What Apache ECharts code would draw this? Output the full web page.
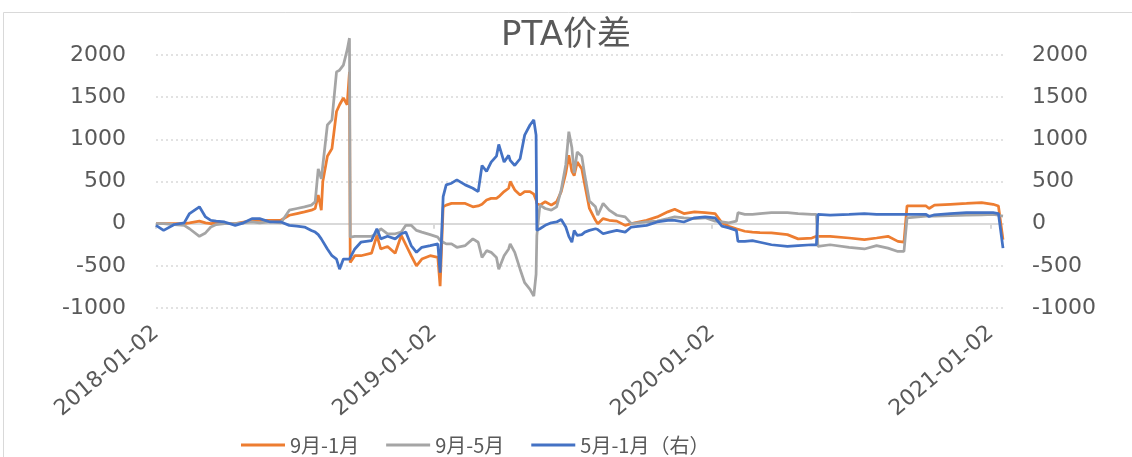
<!DOCTYPE html>
<html>
<head>
<meta charset="utf-8">
<script src="https://cdn.jsdelivr.net/npm/echarts@6/dist/echarts.min.js"></script>
<style>
  html, body { margin: 0; padding: 0; background: #fff; }
  #spread { width: 1132px; height: 457px; }
</style>
</head>
<body>
<div id="spread"></div>
<script>
let dates = [
    '2018-01-02','2018-01-12','2018-01-26','2018-02-08','2018-02-15','2018-02-28','2018-03-01','2018-03-08',
    '2018-03-15','2018-03-22','2018-04-02','2018-04-16','2018-04-27','2018-05-08','2018-05-18','2018-06-01',
    '2018-06-15','2018-06-26','2018-07-06','2018-07-16','2018-07-25','2018-07-30','2018-08-03','2018-08-07',
    '2018-08-09','2018-08-15','2018-08-21','2018-08-27','2018-08-31','2018-09-05','2018-09-10','2018-09-13',
    '2018-09-14','2018-09-20','2018-09-28','2018-10-12','2018-10-19','2018-10-24','2018-11-02','2018-11-12',
    '2018-11-20','2018-11-26','2018-12-03','2018-12-10','2018-12-17','2018-12-28','2019-01-07','2019-01-10',
    '2019-01-14','2019-01-18','2019-01-25','2019-02-01','2019-02-12','2019-02-22','2019-03-01','2019-03-06',
    '2019-03-12','2019-03-18','2019-03-25','2019-03-28','2019-04-04','2019-04-10','2019-04-12','2019-04-18',
    '2019-04-25','2019-05-01','2019-05-08','2019-05-13','2019-05-16','2019-05-17','2019-05-21','2019-05-28',
    '2019-06-05','2019-06-12','2019-06-18','2019-06-24','2019-06-28','2019-07-02','2019-07-05','2019-07-09',
    '2019-07-15','2019-07-19','2019-07-25','2019-08-02','2019-08-05','2019-08-12','2019-08-20','2019-08-30',
    '2019-09-10','2019-09-18','2019-10-08','2019-10-22','2019-11-05','2019-11-14','2019-11-26','2019-12-10',
    '2019-12-24','2020-01-06','2020-01-15','2020-01-24','2020-02-03','2020-02-05','2020-02-14','2020-02-24',
    '2020-03-05','2020-03-20','2020-04-10','2020-04-24','2020-05-12','2020-05-18','2020-05-20','2020-06-05',
    '2020-06-30','2020-07-20','2020-08-05','2020-08-20','2020-09-02','2020-09-10','2020-09-14','2020-10-09',
    '2020-10-13','2020-10-20','2020-11-10','2020-12-01','2020-12-21','2021-01-05','2021-01-12','2021-01-18'
];

// 9月-1月
let sep_jan = [
    0, 0, 0, 0, 10, 30, 30, 10,
    0, 10, 0, 0, 20, 40, 40, 40,
    40, 100, 120, 140, 160, 180, 340, 160,
    500, 800, 890, 1330, 1410, 1490, 1410, 1800,
    -460, -380, -380, -350, -140, -300, -270, -350,
    -140, -250, -380, -500, -420, -380, -400, -740,
    200, 220, 240, 240, 240, 200, 210, 230,
    280, 300, 300, 320, 380, 420, 500, 400,
    340, 380, 380, 350, 280, 240, 220, 260,
    220, 260, 380, 600, 810, 620, 570, 730,
    650, 460, 180, 40, 0, 60, 40, 30,
    -20, 0, 40, 80, 140, 170, 120, 140,
    130, 120, 10, -30, -60, -70, -90, -100,
    -105, -110, -130, -180, -170, -150, -130, -150,
    -170, -190, -170, -150, -210, -220, 210, 210,
    180, 220, 230, 240, 250, 230, 210, -190
];

// 9月-5月
let sep_may = [
    0, 0, -10, -20, -60, -150, -160, -110,
    -40, -10, 0, 0, 10, 20, 10, 20,
    10, 160, 180, 200, 220, 260, 650, 530,
    690, 1170, 1230, 1800, 1820, 1880, 2060, 2200,
    -160, -150, -150, -150, -120, -60, -120, -120,
    -100, -20, -20, -80, -100, -130, -160, -200,
    -220, -240, -240, -280, -260, -180, -220, -400,
    -320, -340, -400, -540, -380, -300, -240, -340,
    -540, -700, -780, -860, -600, -140, 220, 180,
    160, 200, 400, 700, 1090, 900, 600, 850,
    800, 570, 270, 200, 100, 240, 160, 100,
    80, 0, 20, 30, 60, 80, 70, 60,
    70, 30, 20, 10, 30, 130, 110, 110,
    120, 130, 130, 120, 110, 110, -270, -250,
    -280, -300, -260, -290, -330, -330, 70, 90,
    90, 90, 95, 100, 105, 110, 100, 90
];

// 5月-1月（右）
let may_jan = [
    -20, -80, -10, 10, 120, 200, 220, 80,
    40, 30, 20, -20, 10, 60, 60, 20,
    20, -20, -30, -40, -80, -100, -130, -180,
    -200, -300, -380, -420, -540, -420, -420, -420,
    -420, -300, -220, -200, -60, -180, -150, -180,
    -120, -100, -260, -340, -280, -260, -240, -580,
    320, 460, 480, 520, 460, 420, 380, 690,
    620, 730, 800, 940, 730, 810, 750, 690,
    770, 1050, 1170, 1230, 1050, -80, -60, -20,
    10, 20, 50, -40, -150, -220, -80, -140,
    -130, -100, -80, -60, -70, -120, -100, -80,
    -100, -40, -20, 20, 40, 40, 20, 70,
    80, 70, -30, -50, -80, -210, -210, -200,
    -220, -250, -270, -260, -250, -250, 110, 100,
    110, 120, 110, 110, 110, 110, 110, 110,
    85, 105, 120, 130, 130, 130, 120, -290
];

let yearTicks = ['2018-01-02', '2019-01-02', '2020-01-02', '2021-01-02'];

var spreadChart = echarts.init(document.getElementById('spread'));

function pairs(vals) {
    return dates.map(function (d, i) { return [d, vals[i]]; });
}

function plainNumber(v) {
    return String(v);
}

var tickValues = yearTicks.map(function (d) { return echarts.number.parseDate(d).getTime(); });
var labelFont = 'DejaVu Sans';
var textColor = '#595959';

var option = {
    animation: false,
    backgroundColor: '#fff',
    graphic: [{
        type: 'rect',
        shape: { x: 3.5, y: 12.5, width: 1140, height: 460 },
        style: { fill: 'none', stroke: '#d9d9d9', lineWidth: 1 }
    }],
    title: {
        text: 'PTA价差',
        left: 'center',
        top: 14,
        textStyle: {
            fontSize: 34,
            fontWeight: 'normal',
            color: textColor,
            fontFamily: 'DejaVu Sans, Noto Sans CJK SC'
        }
    },
    legend: {
        left: 236,
        top: 430,
        icon: 'rect',
        itemWidth: 44,
        itemHeight: 3,
        itemGap: 27,
        textStyle: { fontSize: 20, color: textColor, fontFamily: 'Noto Sans CJK SC' },
        data: ['9月-1月', '9月-5月', '5月-1月（右）']
    },
    grid: { left: 156, right: 129, top: 55, bottom: 149 },
    xAxis: [
        {
            type: 'time',
            min: '2018-01-02',
            max: '2021-01-18',
            axisLine: { onZero: true, lineStyle: { color: '#d9d9d9', width: 2 } },
            axisTick: { show: true, length: 5, customValues: tickValues, lineStyle: { color: '#d9d9d9', width: 2 } },
            axisLabel: { show: false },
            splitLine: { show: false }
        },
        {
            type: 'time',
            position: 'bottom',
            min: '2018-01-02',
            max: '2021-01-18',
            axisLine: { show: false, onZero: false },
            axisTick: { show: false },
            splitLine: { show: false },
            axisLabel: {
                customValues: tickValues,
                formatter: '{yyyy}-{MM}-{dd}',
                rotate: 40,
                margin: 22,
                fontSize: 22,
                color: textColor,
                fontFamily: labelFont
            }
        }
    ],
    yAxis: [
        {
            type: 'value',
            min: -1000,
            max: 2000,
            interval: 500,
            axisLine: { show: false },
            axisTick: { show: false },
            axisLabel: { margin: 30, fontSize: 22, color: textColor, fontFamily: labelFont, formatter: plainNumber },
            splitLine: { lineStyle: { color: '#d9d9d9', width: 1.5, type: [2, 3] } }
        },
        {
            type: 'value',
            min: -1000,
            max: 2000,
            interval: 500,
            axisLine: { show: false },
            axisTick: { show: false },
            axisLabel: { margin: 29, fontSize: 22, color: textColor, fontFamily: labelFont, formatter: plainNumber },
            splitLine: { show: false }
        }
    ],
    series: [
        {
            name: '9月-1月',
            type: 'line',
            showSymbol: false,
            clip: false,
            itemStyle: { color: '#ED7D31' },
            lineStyle: { width: 2.75, color: '#ED7D31' },
            data: pairs(sep_jan)
        },
        {
            name: '9月-5月',
            type: 'line',
            showSymbol: false,
            clip: false,
            itemStyle: { color: '#A5A5A5' },
            lineStyle: { width: 2.75, color: '#A5A5A5' },
            data: pairs(sep_may)
        },
        {
            name: '5月-1月（右）',
            type: 'line',
            yAxisIndex: 1,
            showSymbol: false,
            clip: false,
            itemStyle: { color: '#4472C4' },
            lineStyle: { width: 2.75, color: '#4472C4' },
            data: pairs(may_jan)
        }
    ]
};

spreadChart.setOption(option);
</script>
</body>
</html>
